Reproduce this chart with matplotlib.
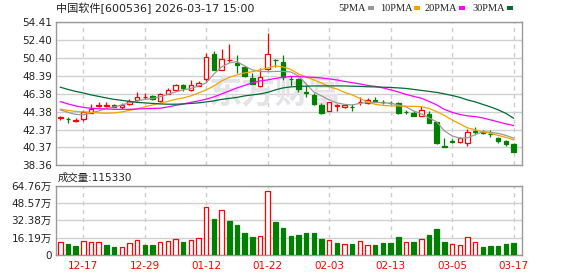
import matplotlib
matplotlib.use('Agg')
import matplotlib.pyplot as plt
from matplotlib.patches import Rectangle

plt.rcParams['font.family'] = ['DejaVu Sans', 'Noto Sans CJK SC']

# trading days shown
dates = ['12-12', '12-15', '12-16', '12-17', '12-18', '12-19', '12-22', '12-23', '12-24', '12-25',
         '12-26', '12-29', '12-30', '12-31', '01-05', '01-06', '01-07', '01-08', '01-09', '01-12',
         '01-13', '01-14', '01-15', '01-16', '01-19', '01-20', '01-21', '01-22', '01-23', '01-26',
         '01-27', '01-28', '01-29', '01-30', '02-02', '02-03', '02-04', '02-05', '02-06', '02-09',
         '02-10', '02-11', '02-12', '02-13', '02-24', '02-25', '02-26', '02-27', '03-02', '03-03',
         '03-04', '03-05', '03-06', '03-09', '03-10', '03-11', '03-12', '03-13', '03-16', '03-17']

opens = [43.70, 43.56, 43.35, 43.53, 44.27, 45.00, 45.04, 45.12, 44.87, 45.23,
         45.68, 45.98, 46.13, 45.60, 46.35, 46.80, 47.35, 46.80, 47.24, 48.02,
         50.81, 49.06, 50.08, 49.81, 49.39, 48.13, 47.24, 49.17, 50.18, 49.92,
         48.05, 47.99, 46.55, 46.20, 45.10, 44.49, 45.05, 44.90, 44.90, 45.43,
         45.31, 45.68, 45.45, 45.34, 45.38, 44.34, 44.27, 43.93, 44.12, 43.19,
         40.50, 41.06, 40.97, 40.92, 42.18, 42.15, 41.88, 41.48, 41.14, 40.74]
highs = [43.93, 43.82, 43.67, 44.57, 45.20, 45.42, 45.46, 45.20, 45.31, 45.83,
         46.61, 46.43, 46.27, 46.40, 47.05, 47.45, 47.43, 47.91, 47.75, 50.96,
         51.14, 51.37, 51.96, 50.70, 49.50, 48.66, 49.25, 53.15, 50.29, 50.70,
         48.30, 48.10, 47.35, 46.40, 45.35, 45.50, 45.23, 45.25, 45.23, 45.98,
         45.85, 45.98, 45.65, 45.55, 45.50, 44.60, 44.40, 45.05, 44.40, 43.25,
         41.41, 41.30, 41.55, 42.41, 42.71, 42.30, 42.33, 41.55, 41.20, 40.85]
lows = [43.45, 43.08, 43.19, 43.37, 44.20, 44.87, 44.93, 44.85, 44.71, 45.09,
        45.60, 45.76, 45.68, 45.50, 46.30, 46.70, 46.68, 46.70, 47.20, 47.80,
        49.00, 49.00, 49.88, 48.70, 48.20, 47.40, 47.10, 49.00, 49.39, 47.91,
        47.20, 46.60, 46.05, 45.10, 44.10, 44.40, 44.49, 44.80, 44.49, 45.12,
        45.20, 45.40, 45.20, 45.20, 44.10, 44.10, 43.85, 43.85, 43.05, 40.80,
        40.41, 40.85, 40.90, 40.48, 41.85, 41.90, 41.59, 40.92, 40.48, 39.81]
closes = [43.74, 43.52, 43.39, 44.34, 44.68, 45.06, 45.05, 44.93, 45.12, 45.60,
          46.05, 46.01, 45.79, 46.32, 46.80, 47.32, 47.05, 47.32, 47.61, 50.44,
          49.06, 50.22, 50.11, 49.55, 48.32, 47.50, 48.21, 50.81, 50.14, 48.28,
          47.99, 46.87, 46.50, 45.20, 44.20, 45.42, 45.09, 45.12, 44.87, 45.46,
          45.65, 45.46, 45.42, 45.31, 44.20, 44.31, 43.93, 44.57, 43.15, 40.85,
          40.47, 41.03, 41.48, 42.08, 42.15, 41.97, 41.85, 41.11, 40.74, 39.92]
# volume in 万手
volumes = [12.1, 10.5, 8.4, 13.0, 12.1, 12.1, 9.3, 7.7, 7.4, 11.2,
           14.0, 9.3, 9.3, 12.1, 13.0, 14.5, 12.4, 14.0, 15.8, 44.7,
           33.8, 41.9, 31.9, 28.2, 21.0, 17.0, 17.7, 59.5, 31.0, 25.4,
           18.0, 18.9, 21.0, 21.0, 15.2, 14.2, 11.4, 10.5, 10.5, 13.3,
           9.3, 9.3, 10.8, 11.4, 17.0, 12.4, 12.4, 14.9, 18.9, 24.5,
           12.4, 10.5, 9.6, 16.7, 12.4, 7.7, 8.7, 8.7, 10.5, 11.533]

ma5 = [44.57, 44.29, 44.06, 44.01, 44.23, 44.45, 44.73, 44.90, 45.12, 45.35,
       45.57, 45.74, 45.85, 46.02, 46.30, 46.57, 46.80, 46.96, 47.24, 47.58,
       48.58, 49.36, 49.81, 49.95, 49.47, 49.03, 48.86, 48.83, 48.86, 48.86,
       48.80, 48.36, 47.46, 46.57, 46.13, 45.68, 45.35, 45.18, 45.12, 45.29,
       45.40, 45.40, 45.35, 45.31, 45.12, 44.90, 44.45, 44.12, 43.67, 43.23,
       42.22, 41.67, 41.41, 41.44, 41.78, 42.15, 42.06, 41.95, 41.72, 41.41]
ma10 = [44.65, 44.51, 44.40, 44.34, 44.29, 44.23, 44.19, 44.23, 44.34, 44.51,
        44.68, 44.90, 45.12, 45.31, 45.51, 45.74, 45.90, 46.13, 46.46, 46.80,
        47.24, 47.80, 48.19, 48.47, 48.69, 48.83, 49.03, 49.25, 49.47, 49.36,
        49.08, 48.58, 48.24, 47.91, 47.58, 47.13, 46.91, 46.52, 46.24, 45.85,
        45.46, 45.18, 45.07, 45.01, 45.01, 44.98, 44.96, 44.93, 44.73, 44.37,
        43.95, 43.45, 43.01, 42.56, 42.34, 42.11, 41.95, 41.72, 41.50, 41.22]
ma20 = [45.49, 45.23, 45.01, 44.84, 44.75, 44.70, 44.67, 44.63, 44.63, 44.63,
        44.67, 44.70, 44.73, 44.75, 44.90, 45.07, 45.23, 45.40, 45.57, 45.76,
        46.02, 46.35, 46.68, 47.02, 47.30, 47.58, 47.80, 47.91, 48.08, 48.21,
        48.30, 48.28, 48.24, 48.19, 48.13, 48.02, 47.91, 47.74, 47.61, 47.46,
        47.30, 47.19, 47.02, 46.80, 46.57, 46.30, 46.07, 45.87, 45.51, 45.12,
        44.62, 44.29, 44.06, 43.90, 43.82, 43.67, 43.45, 43.23, 43.01, 42.82]
ma30 = [47.10, 46.85, 46.63, 46.46, 46.24, 46.07, 45.90, 45.74, 45.63, 45.51,
        45.40, 45.35, 45.29, 45.23, 45.20, 45.20, 45.23, 45.29, 45.35, 45.46,
        45.57, 45.74, 45.85, 45.96, 46.13, 46.24, 46.35, 46.52, 46.80, 47.02,
        47.13, 47.19, 47.21, 47.24, 47.24, 47.24, 47.24, 47.24, 47.21, 47.19,
        47.15, 47.13, 47.10, 47.07, 47.02, 46.96, 46.85, 46.74, 46.63, 46.52,
        46.35, 46.18, 45.96, 45.68, 45.46, 45.18, 44.90, 44.57, 44.18, 43.64]

price_ticks = [38.36, 40.37, 42.37, 44.38, 46.38, 48.39, 50.40, 52.40, 54.41]
vol_ticks = [0, 16.19, 32.38, 48.57, 64.76]
vol_labels = ['0', '16.19万', '32.38万', '48.57万', '64.76万']
tick_dates = ['12-17', '12-29', '01-12', '01-22', '02-03', '02-13', '03-05', '03-17']

ma_names = ['5PMA', '10PMA', '20PMA', '30PMA']
ma_colors = ['#999999', '#f4a300', '#ff00ff', '#006b33']
RED = '#ff0000'
GREEN = '#008000'

fig = plt.figure(figsize=(5.78, 2.76), dpi=100)
ax = fig.add_axes([0.0969, 0.4004, 0.8067, 0.521])
axv = fig.add_axes([0.0969, 0.0761, 0.8067, 0.2511])

x = list(range(len(dates)))
w = 0.58
xpos = [dates.index(d) for d in tick_dates]

# candles
for i in x:
    up = closes[i] >= opens[i]
    c = RED if up else GREEN
    ax.vlines(i, lows[i], highs[i], color=c, lw=0.9, zorder=3)
    bottom = min(opens[i], closes[i])
    h = max(abs(closes[i] - opens[i]), 0.02)
    ax.add_patch(Rectangle((i - w / 2, bottom), w, h, facecolor='white' if up else c,
                           edgecolor=c, lw=0.9, zorder=4))

# moving averages
for vals, col in zip([ma5, ma10, ma20, ma30], ma_colors):
    ax.plot(x, vals, color=col, lw=0.9, zorder=5)

# watermark
ax.text(0.47, 0.50, '东方财富', transform=ax.transAxes, fontsize=24, fontweight='bold',
        color='#e4e4e8', ha='center', va='center', zorder=1, family=['Noto Sans CJK SC'])

# volume bars, coloured by change against previous close
face = []
edge = []
for i in x:
    prev = closes[i - 1] if i > 0 else opens[i]
    if closes[i] >= prev:
        face.append('white')
        edge.append(RED)
    else:
        face.append(GREEN)
        edge.append(GREEN)
axv.bar(x, volumes, width=w, color=face, edgecolor=edge, lw=0.9, zorder=3)

for a in (ax, axv):
    a.set_xlim(-0.56, len(dates) - 1 + 1.14)
    a.set_xticks(xpos)
    a.xaxis.grid(True, color='#cccccc', ls=(0, (3, 3)), lw=1)
    a.yaxis.grid(True, color='#d0d0d0', ls='-', lw=1)
    a.set_axisbelow(True)
    a.tick_params(length=0, labelsize=7.5, colors='#222222', pad=3)
    for s in a.spines.values():
        s.set_color('#999999')
        s.set_linewidth(1)

ax.set_ylim(price_ticks[0], price_ticks[-1])
ax.set_yticks(price_ticks)
ax.set_yticklabels([f'{t:.2f}' for t in price_ticks])
ax.set_xticklabels([])

axv.set_ylim(vol_ticks[0], vol_ticks[-1])
axv.set_yticks(vol_ticks)
axv.set_yticklabels(vol_labels)
axv.set_xticklabels(tick_dates)
axv.tick_params(axis='x', colors=RED, pad=4)

# header texts
fig.text(0.097, 0.970, '中国软件[600536] 2026-03-17 15:00', fontsize=8, va='center',
         ha='left', color='#222222')
fig.text(0.099, 0.357, '成交量:115330', fontsize=7.5, va='center', ha='left', color='#222222')

lx = [0.585, 0.657, 0.735, 0.817]
for name, col, px in zip(ma_names, ma_colors, lx):
    t = fig.text(px, 0.970, name, fontsize=7.5, va='center', ha='left', color='#222222',
                 family=['Liberation Serif'])
fig.canvas.draw()
r = fig.canvas.get_renderer()
for t, col in zip(fig.texts[2:], ma_colors):
    bb = t.get_window_extent(r)
    fig.add_artist(Rectangle(((bb.x1 + 2) / 578, (276 - 9.5) / 276), 6 / 578, 3.5 / 276,
                             transform=fig.transFigure, color=col, lw=0))

fig.savefig('out.png', dpi=100)
